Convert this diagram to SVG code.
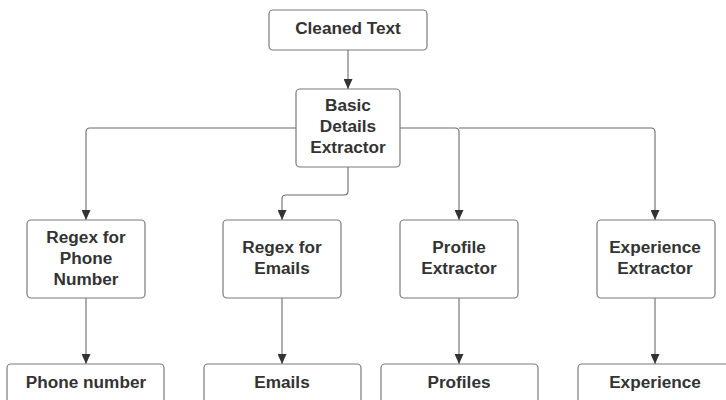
<svg xmlns="http://www.w3.org/2000/svg" width="726" height="400" viewBox="0 0 726 400">
  <style>
    .box { fill: #ffffff; stroke: #7a7a7a; stroke-width: 1.2; }
    .lbl { font-family: "Liberation Sans", Arial, sans-serif; font-weight: bold; font-size: 17.2px; fill: #333333; text-anchor: middle; }
    .wire { fill: none; stroke: #6b6b6b; stroke-width: 1.1; }
  </style>
  <defs>
    <marker id="arrow" viewBox="0 0 10 10" refX="10" refY="5" markerWidth="10" markerHeight="9" markerUnits="userSpaceOnUse" orient="auto" preserveAspectRatio="none">
      <path d="M0,0 L10,5 L0,10 z" fill="#333333"/>
    </marker>
  </defs>
  <rect width="726" height="400" fill="#ffffff"/>

  <g id="connectors">
    <path class="wire" d="M348,50 V89" marker-end="url(#arrow)"/>
    <path class="wire" d="M296,128 H90 Q86,128 86,132 V220" marker-end="url(#arrow)"/>
    <path class="wire" d="M348,167 V191 Q348,195 344,195 H286 Q282,195 282,199 V220" marker-end="url(#arrow)"/>
    <path class="wire" d="M400,128 H455 Q459,128 459,132 V220" marker-end="url(#arrow)"/>
    <path class="wire" d="M459,128 H651 Q655,128 655,132 V220" marker-end="url(#arrow)"/>
    <path class="wire" d="M86,298 V364" marker-end="url(#arrow)"/>
    <path class="wire" d="M282,298 V364" marker-end="url(#arrow)"/>
    <path class="wire" d="M459,298 V364" marker-end="url(#arrow)"/>
    <path class="wire" d="M655,298 V364" marker-end="url(#arrow)"/>
  </g>

  <g id="cleaned-text">
    <rect class="box" x="269" y="10" width="158" height="40" rx="4"/>
    <text class="lbl" x="348" y="34">Cleaned Text</text>
  </g>

  <g id="basic-details-extractor">
    <rect class="box" x="296" y="89" width="104" height="78" rx="4"/>
    <text class="lbl" x="348" y="111">Basic</text>
    <text class="lbl" x="348" y="132">Details</text>
    <text class="lbl" x="348" y="153">Extractor</text>
  </g>

  <g id="regex-phone">
    <rect class="box" x="27" y="220" width="118" height="78" rx="4"/>
    <text class="lbl" x="86" y="243">Regex for</text>
    <text class="lbl" x="86" y="264">Phone</text>
    <text class="lbl" x="86" y="285">Number</text>
  </g>

  <g id="regex-emails">
    <rect class="box" x="223" y="220" width="118" height="78" rx="4"/>
    <text class="lbl" x="282" y="253">Regex for</text>
    <text class="lbl" x="282" y="274">Emails</text>
  </g>

  <g id="profile-extractor">
    <rect class="box" x="400" y="220" width="118" height="78" rx="4"/>
    <text class="lbl" x="459" y="253">Profile</text>
    <text class="lbl" x="459" y="274">Extractor</text>
  </g>

  <g id="experience-extractor">
    <rect class="box" x="597" y="220" width="118" height="78" rx="4"/>
    <text class="lbl" x="655" y="253">Experience</text>
    <text class="lbl" x="655" y="274">Extractor</text>
  </g>

  <g id="phone-number">
    <rect class="box" x="7" y="364" width="157" height="50" rx="4"/>
    <text class="lbl" x="86" y="388">Phone number</text>
  </g>

  <g id="emails">
    <rect class="box" x="204" y="364" width="157" height="50" rx="4"/>
    <text class="lbl" x="282" y="388">Emails</text>
  </g>

  <g id="profiles">
    <rect class="box" x="381" y="364" width="157" height="50" rx="4"/>
    <text class="lbl" x="459" y="388">Profiles</text>
  </g>

  <g id="experience">
    <rect class="box" x="578" y="364" width="157" height="50" rx="4"/>
    <text class="lbl" x="655" y="388">Experience</text>
  </g>
</svg>
